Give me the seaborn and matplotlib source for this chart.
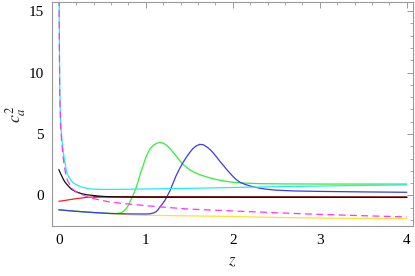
import matplotlib
matplotlib.use("Agg")
import matplotlib.pyplot as plt
import seaborn as sns
import pandas as pd
from matplotlib.ticker import MultipleLocator

# ---- data ----
cyan_z = [0.003, 0.006, 0.009, 0.012, 0.016, 0.02, 0.025, 0.03, 0.04, 0.05, 0.06, 0.07, 0.08, 0.09, 0.1,
          0.126, 0.15, 0.18, 0.22, 0.26, 0.32, 0.38, 0.5, 0.75, 1.0, 1.5, 2.0, 2.5, 3.0, 3.5, 4.0]
cyan_y = [16.0, 12.5, 10.3, 8.2, 7.0, 6.2, 5.5, 5.0, 4.2, 3.6, 3.1, 2.7, 2.25, 1.9, 1.68,
          1.36, 1.12, 0.95, 0.8, 0.68, 0.57, 0.51, 0.48, 0.49, 0.52, 0.57, 0.64, 0.7, 0.76, 0.81, 0.85]

mag_z = [0.003, 0.006, 0.01, 0.02, 0.03, 0.045, 0.06, 0.08, 0.1, 0.12, 0.14, 0.16, 0.2, 0.25, 0.3, 0.35,
         0.4, 0.5, 0.59, 0.7, 0.82, 1.05, 1.2, 1.5, 2.0, 2.5, 3.0, 3.5, 4.0]
mag_y = [16.0, 12.0, 8.5, 5.8, 4.6, 3.4, 2.5, 1.7, 1.2, 0.95, 0.72, 0.5, 0.28, 0.1, -0.04, -0.15,
         -0.27, -0.42, -0.55, -0.63, -0.72, -0.87, -0.96, -1.12, -1.27, -1.42, -1.55, -1.66, -1.76]

black_z = [0.0, 0.015, 0.03, 0.05, 0.07, 0.1, 0.126, 0.15, 0.18, 0.22, 0.26, 0.32, 0.38, 0.49, 0.6, 0.8,
           1.0, 2.0, 3.0, 4.0]
black_y = [2.1, 1.85, 1.63, 1.33, 1.08, 0.83, 0.63, 0.48, 0.35, 0.23, 0.14, 0.05, 0.0, -0.08, -0.12, -0.14,
           -0.15, -0.16, -0.16, -0.17]

red_z = [0.0, 0.1, 0.2, 0.34, 0.5, 0.75, 1.0, 2.0, 3.0, 4.0]
red_y = [-0.49, -0.38, -0.27, -0.15, -0.11, -0.1, -0.11, -0.12, -0.13, -0.14]

dred_z = [0.4, 1.0, 2.0, 3.0, 4.0]
dred_y = [-0.12, -0.14, -0.14, -0.15, -0.15]

yellow_z = [0.0, 0.3, 0.6, 0.9, 1.5, 2.0, 2.5, 3.0, 3.5, 4.0]
yellow_y = [-1.18, -1.35, -1.5, -1.62, -1.67, -1.72, -1.8, -1.85, -1.88, -1.9]

blue_z = [0.0, 0.2, 0.4, 0.6, 0.8, 1.0, 1.05, 1.09, 1.12, 1.14, 1.16, 1.19, 1.22, 1.25, 1.28, 1.31,
          1.35, 1.39, 1.43, 1.47, 1.5, 1.54, 1.58, 1.62, 1.66, 1.7, 1.74, 1.77, 1.81, 1.85, 1.89,
          1.93, 1.97, 2.0, 2.04, 2.08, 2.12, 2.16, 2.22, 2.31, 2.4, 2.5, 2.7, 3.0, 3.5, 4.0]
blue_y = [-1.18, -1.3, -1.4, -1.48, -1.51, -1.52, -1.5, -1.43, -1.32, -1.17, -0.97, -0.7, -0.4, 0.0, 0.41, 0.95,
          1.63, 2.2, 2.7, 3.15, 3.45, 3.8, 4.03, 4.15, 4.12, 3.95, 3.72, 3.5, 3.15, 2.78, 2.45,
          2.1, 1.78, 1.55, 1.28, 1.07, 0.95, 0.85, 0.72, 0.58, 0.49, 0.42, 0.36, 0.32, 0.28, 0.25]

green_z = [0.0, 0.2, 0.4, 0.6, 0.67, 0.71, 0.74, 0.77, 0.8, 0.835, 0.86, 0.885, 0.91, 0.93, 0.95, 0.97,
           0.99, 1.01, 1.03, 1.05, 1.075, 1.1, 1.13, 1.16, 1.19, 1.22, 1.25, 1.28, 1.32, 1.36, 1.39,
           1.43, 1.47, 1.5, 1.55, 1.62, 1.7, 1.77, 1.85, 1.97, 2.1, 2.31, 2.6, 3.0, 3.5, 4.0]
green_y = [-1.18, -1.3, -1.4, -1.47, -1.48, -1.43, -1.32, -1.12, -0.81, -0.27, 0.12, 0.55, 1.1, 1.6, 2.05, 2.45,
           2.88, 3.26, 3.55, 3.8, 4.0, 4.14, 4.25, 4.3, 4.27, 4.17, 4.0, 3.8, 3.45, 3.1, 2.82,
           2.5, 2.27, 2.1, 1.9, 1.68, 1.5, 1.36, 1.23, 1.09, 1.01, 0.95, 0.93, 0.92, 0.92, 0.92]

series = [
    ("yellow", yellow_z, yellow_y, "#ffe033", "-"),
    ("green", green_z, green_y, "#33ee33", "-"),
    ("blue", blue_z, blue_y, "#3a3aee", "-"),
    ("cyan", cyan_z, cyan_y, "#22eeee", "-"),
    ("red", red_z, red_y, "#ee2222", "-"),
    ("darkred", dred_z, dred_y, "#8b1a1a", "-"),
    ("black", black_z, black_y, "#111111", "-"),
    ("magenta", mag_z, mag_y, "#ff33ff", (0, (5.5, 3.5))),
]

sns.set_theme(style="white")
plt.rcParams["font.family"] = ["Liberation Serif", "DejaVu Serif"]
plt.rcParams["mathtext.fontset"] = "stix"

fig = plt.figure(figsize=(4.15, 2.76), dpi=100)
ax = fig.add_axes([0.125, 0.181, 0.870, 0.812])

for name, zs, ys, col, ls in series:
    df = pd.DataFrame({"z": zs, "v": ys})
    sns.lineplot(data=df, x="z", y="v", ax=ax, color=col, linewidth=0.9,
                 linestyle=ls, sort=False, estimator=None, legend=False)

ax.set_xlim(-0.08, 4.07)
ax.set_ylim(-2.5, 15.75)
ax.xaxis.set_major_locator(MultipleLocator(1))
ax.xaxis.set_minor_locator(MultipleLocator(0.2))
ax.yaxis.set_major_locator(MultipleLocator(5))
ax.yaxis.set_minor_locator(MultipleLocator(1))
ax.tick_params(which="both", direction="in", top=True, right=True,
               color="#999999", labelsize=11, labelcolor="black")
ax.tick_params(which="major", length=4, width=0.7, pad=6)
ax.tick_params(which="minor", length=2, width=0.6)
for s in ax.spines.values():
    s.set_color("#999999")
    s.set_linewidth(0.8)

ax.set_xlabel("$z$", fontsize=12, labelpad=4)
ax.set_ylabel("$c_a^2$", fontsize=13, labelpad=0)

fig.savefig("out.png", dpi=100)
